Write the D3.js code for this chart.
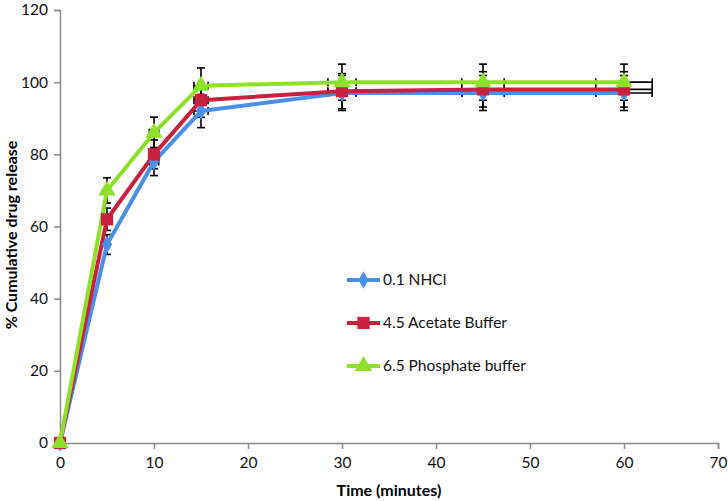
<!DOCTYPE html>
<html><head><meta charset="utf-8">
<script src="https://cdn.jsdelivr.net/npm/d3@7"></script>
<style>body{margin:0;background:#fff}svg{display:block;font-family:Lato,"Open Sans",sans-serif}</style>
</head><body>
<script>
const times = [0, 5, 10, 15, 30, 45, 60];
const nhcl = [0, 55, 78, 92, 97, 97, 97];
const acetate = [0, 62, 80, 95, 97.5, 98, 98];
const phosphate = [0, 70, 86, 99, 100, 100, 100];
const seriesNames = ["0.1 NHCl", "4.5 Acetate Buffer", "6.5 Phosphate buffer"];
const seriesColors = ["#4a8fe8", "#c8203f", "#8fe02a"];
const seriesShapes = ["diamond", "square", "triangle"];
const errPct = 0.05;
const xTicks = [0, 10, 20, 30, 40, 50, 60, 70];
const yTicks = [0, 20, 40, 60, 80, 100, 120];

const W = 728, H = 501;
const svg = d3.select("body").append("svg").attr("width", W).attr("height", H);
const x = d3.scaleLinear().domain([0, 70]).range([60, 718]);
const y = d3.scaleLinear().domain([0, 120]).range([443, 10]);

const series = [nhcl, acetate, phosphate].map((vals, i) => ({
  name: seriesNames[i], color: seriesColors[i], shape: seriesShapes[i],
  pts: times.map((t, j) => ({t, v: vals[j]}))
}));

// axes
const axisColor = "#8a8a8a";
const xAxis = svg.append("g").attr("transform", `translate(0,${y(0)})`)
  .call(d3.axisBottom(x).tickValues(xTicks).tickSize(6).tickPadding(8));
const yAxis = svg.append("g").attr("transform", `translate(${x(0)},0)`)
  .call(d3.axisLeft(y).tickValues(yTicks).tickSize(6).tickPadding(6));
[xAxis, yAxis].forEach(g => {
  g.selectAll("path,line").attr("stroke", axisColor).attr("stroke-width", 1.5);
  g.selectAll("text").attr("fill", "#111").style("font-size", "15.5px").style("font-family", "Lato, 'Open Sans', sans-serif");
});
xAxis.selectAll("text").attr("dy", "0.71em");

svg.append("text").attr("x", 389).attr("y", 496).attr("text-anchor", "middle")
  .style("font-size", "16px").style("font-weight", "bold").text("Time (minutes)");
svg.append("text").attr("transform", `translate(17,235) rotate(-90)`).attr("text-anchor", "middle")
  .style("font-size", "16px").style("font-weight", "bold").text("% Cumulative drug release");

// error bars (5% percentage, both directions, x and y) - drawn beneath series
const eb = svg.append("g").attr("stroke", "#000").attr("stroke-width", 1.6);
const cap = 4;
series.forEach(s => {
  s.pts.forEach(p => {
    if (p.v === 0 && p.t === 0) return;
    const cx = x(p.t), cy = y(p.v);
    const y1 = y(p.v * (1 + errPct)), y2 = y(p.v * (1 - errPct));
    eb.append("line").attr("x1", cx).attr("x2", cx).attr("y1", y1).attr("y2", y2);
    eb.append("line").attr("x1", cx - cap).attr("x2", cx + cap).attr("y1", y1).attr("y2", y1);
    eb.append("line").attr("x1", cx - cap).attr("x2", cx + cap).attr("y1", y2).attr("y2", y2);
    const x1 = x(p.t * (1 - errPct)), x2 = x(p.t * (1 + errPct));
    eb.append("line").attr("x1", x1).attr("x2", x2).attr("y1", cy).attr("y2", cy);
    eb.append("line").attr("x1", x1).attr("x2", x1).attr("y1", cy - cap).attr("y2", cy + cap);
    eb.append("line").attr("x1", x2).attr("x2", x2).attr("y1", cy - cap).attr("y2", cy + cap);
  });
});

// lines
const line = d3.line().x(d => x(d.t)).y(d => y(d.v));
series.forEach(s => {
  svg.append("path").datum(s.pts).attr("d", line).attr("fill", "none")
    .attr("stroke", s.color).attr("stroke-width", 4).attr("stroke-linejoin", "round");
});

// markers
const symMap = {diamond: d3.symbolDiamond, square: d3.symbolSquare, triangle: d3.symbolTriangle};
const symSize = {diamond: 90, square: 150, triangle: 130};
series.forEach(s => {
  svg.append("g").selectAll("path").data(s.pts).join("path")
    .attr("transform", d => `translate(${x(d.t)},${y(d.v)})`)
    .attr("d", d3.symbol().type(symMap[s.shape]).size(symSize[s.shape]))
    .attr("fill", s.color);
});

// legend
const leg = svg.append("g");
series.forEach((s, i) => {
  const ly = 280 + i * 43;
  leg.append("line").attr("x1", 347).attr("x2", 380).attr("y1", ly).attr("y2", ly)
    .attr("stroke", s.color).attr("stroke-width", 4);
  leg.append("path").attr("transform", `translate(363.5,${ly})`)
    .attr("d", d3.symbol().type(symMap[s.shape]).size(symSize[s.shape])).attr("fill", s.color);
  leg.append("text").attr("x", 383).attr("y", ly).attr("dy", "0.35em")
    .style("font-size", "15.5px").attr("fill", "#111").text(s.name);
});
</script>
</body></html>
